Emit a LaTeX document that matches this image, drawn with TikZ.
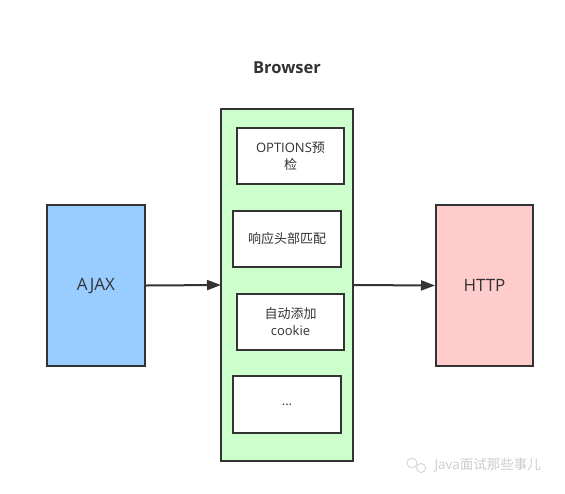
\documentclass[tikz,border=0pt]{standalone}
\usepackage{fontspec}
\setmainfont{Open Sans}
\newfontfamily\cjk{Noto Sans CJK SC}
\usetikzlibrary{arrows.meta}
\definecolor{strokec}{HTML}{333333}
\definecolor{ajaxc}{HTML}{99CCFF}
\definecolor{httpc}{HTML}{FFCCCC}
\definecolor{browc}{HTML}{CCFFCC}
\definecolor{txtc}{HTML}{333333}
\tikzset{
  blk/.style={draw=strokec, line width=2pt, inner sep=0pt, text=txtc},
  inbox/.style={blk, fill=white, font=\fontsize{13}{17}\selectfont, align=center},
  conn/.style={draw=strokec, line width=2pt, -{Triangle[length=14pt,width=10pt]}},
}
\begin{document}
\begin{tikzpicture}[x=1pt,y=-1pt]
\useasboundingbox (0,0) rectangle (565,493);
\node[font=\bfseries\fontsize{16.5}{19}\selectfont, text=txtc] (title) at (287,68) {Browser};
\draw[blk, fill=browc] (221,109) rectangle (353,461);
\coordinate (bl) at (221,285);
\coordinate (br) at (353,285);
\node[inbox, minimum width=107pt, minimum height=56pt] (o1) at (290.5,156) {OPTIONS{\cjk 预}\\{\cjk 检}};
\node[inbox, minimum width=108pt, minimum height=56pt] (o2) at (287,239) {\cjk 响应头部匹配};
\node[inbox, minimum width=107pt, minimum height=56pt] (o3) at (290.5,322) {{\cjk 自动添加}\\cookie};
\node[inbox, minimum width=108pt, minimum height=57pt] (o4) at (287,404.5) {...};
\node[blk, fill=ajaxc, minimum width=98pt, minimum height=161pt, font=\fontsize{17}{20}\selectfont] (ajax) at (96,285.5) {AJAX};
\node[blk, fill=httpc, minimum width=97pt, minimum height=161pt, font=\fontsize{17}{20}\selectfont] (http) at (484.5,285.5) {HTTP};
\draw[conn] (ajax.east) -- (bl);
\draw[conn] (br) -- (http.west);
\draw[gray!40, line width=0.7pt] (412,463) circle (5pt);
\draw[gray!40, line width=0.7pt] (421,468) circle (4.5pt);
\node[anchor=west, text=gray!40, font=\fontsize{13.5}{16}\selectfont] (wm) at (431,465) {Java{\cjk 面试那些事儿}};
\end{tikzpicture}
\end{document}
